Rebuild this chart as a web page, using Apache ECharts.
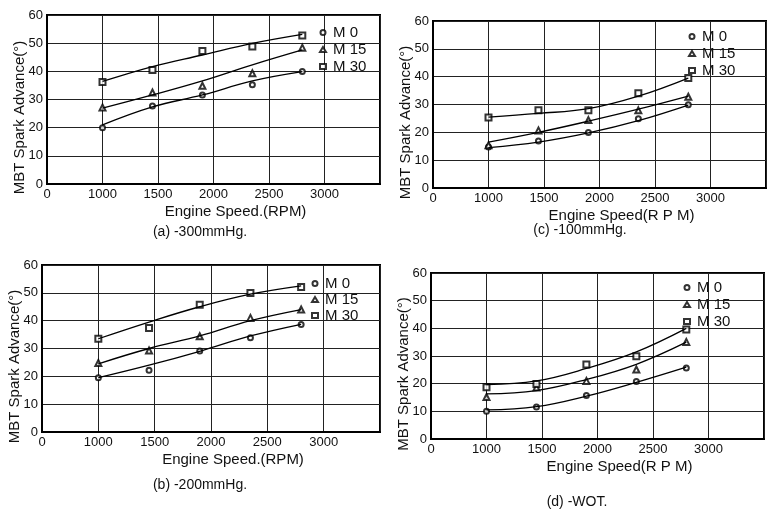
<!DOCTYPE html>
<html>
<head>
<meta charset="utf-8">
<script src="https://cdn.jsdelivr.net/npm/echarts@6/dist/echarts.min.js"></script>
<style>
html,body{margin:0;padding:0;background:#fff}
#chart{width:769px;height:514px}
</style>
</head>
<body>
<div id="chart"></div>
<script>
// 转速 (RPM)
var rpm = [1000, 1450, 1900, 2350, 2800];
var legendNames = ['M 0', 'M 15', 'M 30'];
// x轴刻度文字 (500~3500, 500处写"0")
var xTickLabels = ['0', '1000', '1500', '2000', '2500', '3000', ''];
var yTickLabels = ['0', '10', '20', '30', '40', '50', '60'];

// (a) -300mmHg 测点
var a_m0  = [20.0, 27.7, 31.6, 35.2, 39.9];
var a_m15 = [27.2, 32.5, 34.9, 39.3, 48.4];
var a_m30 = [36.2, 40.5, 47.2, 48.8, 52.7];
// (a) 拟合曲线
var a_fit0  = [21.0, 27.4, 31.6, 36.6, 39.9];
var a_fit15 = [26.9, 31.6, 36.6, 42.3, 47.6];
var a_fit30 = [36.4, 41.7, 45.8, 49.9, 53.1];

// (b) -200mmHg
var b_m0  = [19.5, 22.2, 29.1, 33.9, 38.6];
var b_m15 = [24.8, 29.3, 34.4, 41.0, 44.0];
var b_m30 = [33.5, 37.4, 45.7, 49.9, 52.1];
var b_fit0  = [19.5, 24.0, 29.0, 34.5, 38.7];
var b_fit15 = [24.5, 30.0, 34.5, 40.0, 44.0];
var b_fit30 = [33.5, 39.5, 45.0, 49.5, 52.5];

// (c) -100mmHg
var c_m0  = [14.7, 16.9, 19.9, 24.9, 29.9];
var c_m15 = [15.4, 20.7, 24.4, 27.9, 32.8];
var c_m30 = [25.3, 27.9, 27.9, 34.0, 39.5];
var c_fit0  = [14.5, 16.5, 19.8, 24.2, 29.8];
var c_fit15 = [16.5, 20.0, 24.0, 28.3, 33.0];
var c_fit30 = [25.5, 26.8, 28.5, 33.0, 39.5];

// (d) -WOT
var d_m0  = [10.0, 11.6, 15.7, 20.8, 25.7];
var d_m15 = [15.2, 18.6, 21.0, 25.1, 35.1];
var d_m30 = [18.7, 19.9, 26.9, 29.9, 39.6];
var d_fit0  = [10.5, 11.7, 15.5, 20.5, 26.0];
var d_fit15 = [16.3, 17.5, 21.5, 27.0, 35.0];
var d_fit30 = [19.7, 21.0, 25.5, 31.5, 40.0];

var panelPoints = [[a_m0, a_m15, a_m30], [b_m0, b_m15, b_m30], [c_m0, c_m15, c_m30], [d_m0, d_m15, d_m30]];
var panelFits = [[a_fit0, a_fit15, a_fit30], [b_fit0, b_fit15, b_fit30], [c_fit0, c_fit15, c_fit30], [d_fit0, d_fit15, d_fit30]];
var captions = ['(a) -300mmHg.', '(b) -200mmHg.', '(c) -100mmHg.', '(d) -WOT.'];
var xNames = ['Engine Speed.(RPM)', 'Engine Speed.(RPM)', 'Engine Speed(R P M)', 'Engine Speed(R P M)'];

// 布局
var grids = [
  { left: 47, top: 15, width: 333, height: 169 },
  { left: 42, top: 265, width: 338, height: 167 },
  { left: 433, top: 21, width: 333, height: 167 },
  { left: 431, top: 273, width: 333, height: 166 }
];
var legendPos = [[319, 25, 16], [311, 276, 15], [688, 29, 16], [683, 280, 16]];
var captionPos = [[200, 232], [200, 485], [580, 230], [577, 502]];

var FONT = 'Liberation Sans';
var symbols = ['emptyCircle', 'emptyTriangle', 'emptyRect'];
var symSize = [5, 6, 6];

function pairs(arr) {
  return rpm.map(function (x, k) { return [x, arr[k]]; });
}

var xAxes = [], yAxes = [], series = [], legends = [], graphics = [];
for (var i = 0; i < 4; i++) {
  xAxes.push({
    type: 'value', gridIndex: i, min: 500, max: 3500, interval: 500,
    name: xNames[i], nameLocation: 'middle', nameGap: 20,
    nameTextStyle: { fontFamily: FONT, fontSize: 15, color: '#111', padding: [0, 0, 0, 44] },
    axisLine: { lineStyle: { color: '#000', width: 2 } },
    axisTick: { show: false },
    axisLabel: {
      fontFamily: FONT, fontSize: 13, color: '#111', margin: 4,
      formatter: function (v) { return xTickLabels[Math.round((v - 500) / 500)]; }
    },
    splitLine: { show: true, lineStyle: { color: '#222', width: 1 } }
  });
  yAxes.push({
    type: 'value', gridIndex: i, min: 0, max: 60, interval: 10,
    name: 'MBT Spark Advance(°)', nameLocation: 'middle', nameGap: 20, nameMoveOverlap: false,
    nameTextStyle: { fontFamily: FONT, fontSize: 15, color: '#111', padding: [0, 36, 0, 0] },
    axisLine: { lineStyle: { color: '#000', width: 2 } },
    axisTick: { show: false },
    axisLabel: {
      fontFamily: FONT, fontSize: 13, color: '#111', margin: 4,
      formatter: function (v) { return yTickLabels[Math.round(v / 10)]; }
    },
    splitLine: { show: true, lineStyle: { color: '#222', width: 1 } }
  });
  for (var s = 0; s < 3; s++) {
    // 拟合线
    series.push({
      name: 'fit ' + legendNames[s], type: 'line', xAxisIndex: i, yAxisIndex: i,
      data: pairs(panelFits[i][s]), smooth: 0.4, showSymbol: false, silent: true,
      lineStyle: { color: '#000', width: 1.3 }
    });
    // 测点
    series.push({
      name: legendNames[s], type: 'scatter', xAxisIndex: i, yAxisIndex: i,
      data: pairs(panelPoints[i][s]), symbol: symbols[s], symbolSize: symSize[s],
      itemStyle: { color: '#000', borderColor: '#000', borderWidth: 1.2 }
    });
  }
  legends.push({
    data: legendNames, orient: 'vertical', left: legendPos[i][0], top: legendPos[i][1],
    padding: 0, itemWidth: 6, itemHeight: 5, itemGap: legendPos[i][2] - 14,
    textStyle: { fontFamily: FONT, fontSize: 15, color: '#111', lineHeight: 14, padding: [0, 0, 0, 2] }
  });
  graphics.push({
    type: 'text', x: captionPos[i][0], y: captionPos[i][1],
    style: { text: captions[i], font: '14px "Liberation Sans Narrow", "Liberation Sans", sans-serif', fill: '#111', textAlign: 'center', textVerticalAlign: 'middle' }
  });
}

var myChart = echarts.init(document.getElementById('chart'));
var option = {
  animation: false,
  backgroundColor: '#fff',
  grid: grids.map(function (g) {
    return { left: g.left, top: g.top, width: g.width, height: g.height, show: true, borderColor: '#000', borderWidth: 2, containLabel: false };
  }),
  xAxis: xAxes,
  yAxis: yAxes,
  legend: legends,
  graphic: graphics,
  series: series
};
myChart.setOption(option);
</script>
</body>
</html>
